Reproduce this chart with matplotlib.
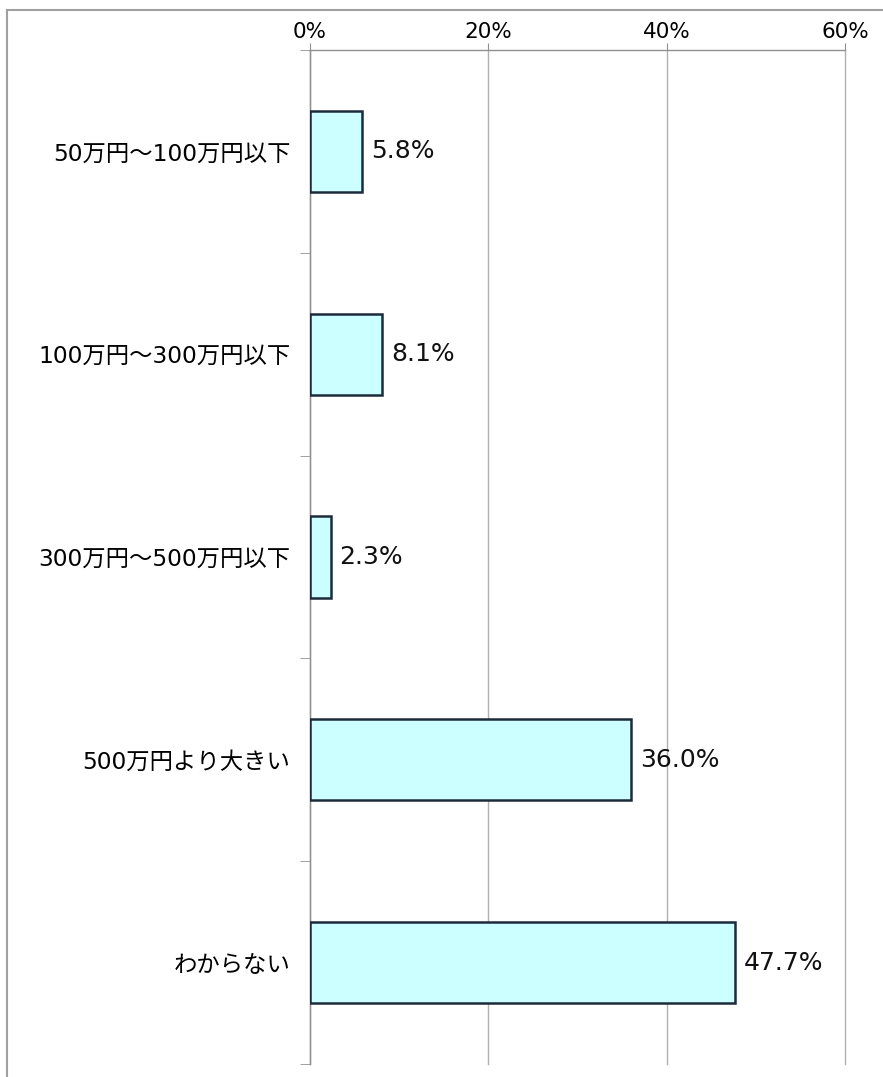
import numpy as np
import matplotlib.pyplot as plt
from matplotlib.patches import Rectangle
from matplotlib.ticker import FixedLocator

plt.rcParams['font.family'] = ['DejaVu Sans', 'Noto Sans CJK JP']

# data
categories = ['50万円～100万円以下', '100万円～300万円以下', '300万円～500万円以下',
              '500万円より大きい', 'わからない']
values = [5.8, 8.1, 2.3, 36.0, 47.7]
xticks = [0, 20, 40, 60]
xtick_labels = ['0%', '20%', '40%', '60%']

fig = plt.figure(figsize=(8.83, 10.77), dpi=100)
W, H = 883, 1077
ax = fig.add_axes([310 / W, 1 - 1064 / H, 535 / W, 1014 / H])

# outer frame (only top and left are inside the picture)
fig.patches.append(Rectangle((7 / W, -0.1), 1.2, 1 - 10 / H + 0.1, transform=fig.transFigure,
                             fill=False, edgecolor='#a0a0a0', linewidth=1.5))

y = np.arange(len(categories))
ax.barh(y, values, height=0.4, color='#ccffff', edgecolor='#1c2b3a', linewidth=1.8, zorder=3)

for yi, v in zip(y, values):
    ax.text(v + 1.0, yi, f'{v:.1f}%', va='center', ha='left', fontsize=18, color='#111111')

ax.set_xlim(0, 60)
ax.set_ylim(4.5, -0.5)
ax.set_xticks(xticks)
ax.set_xticklabels(xtick_labels, fontsize=15.5)
ax.xaxis.tick_top()
ax.tick_params(axis='x', length=5, color='#909090', pad=1)
ax.grid(axis='x', color='#b0b0b0', linewidth=1.0, zorder=0)
for gl in ax.get_xgridlines():
    gl.set_clip_on(False)

ax.set_yticks(y)
ax.set_yticklabels(categories, fontsize=16.8)
ax.tick_params(axis='y', length=0, pad=14)
ax.yaxis.set_minor_locator(FixedLocator(np.arange(-0.5, 5, 1)))
ax.tick_params(axis='y', which='minor', length=7, color='#909090')

for s in ['right', 'bottom']:
    ax.spines[s].set_visible(False)
for s in ['top', 'left']:
    ax.spines[s].set_color('#909090')
    ax.spines[s].set_linewidth(1.0)

fig.savefig('out.png', dpi=100)
